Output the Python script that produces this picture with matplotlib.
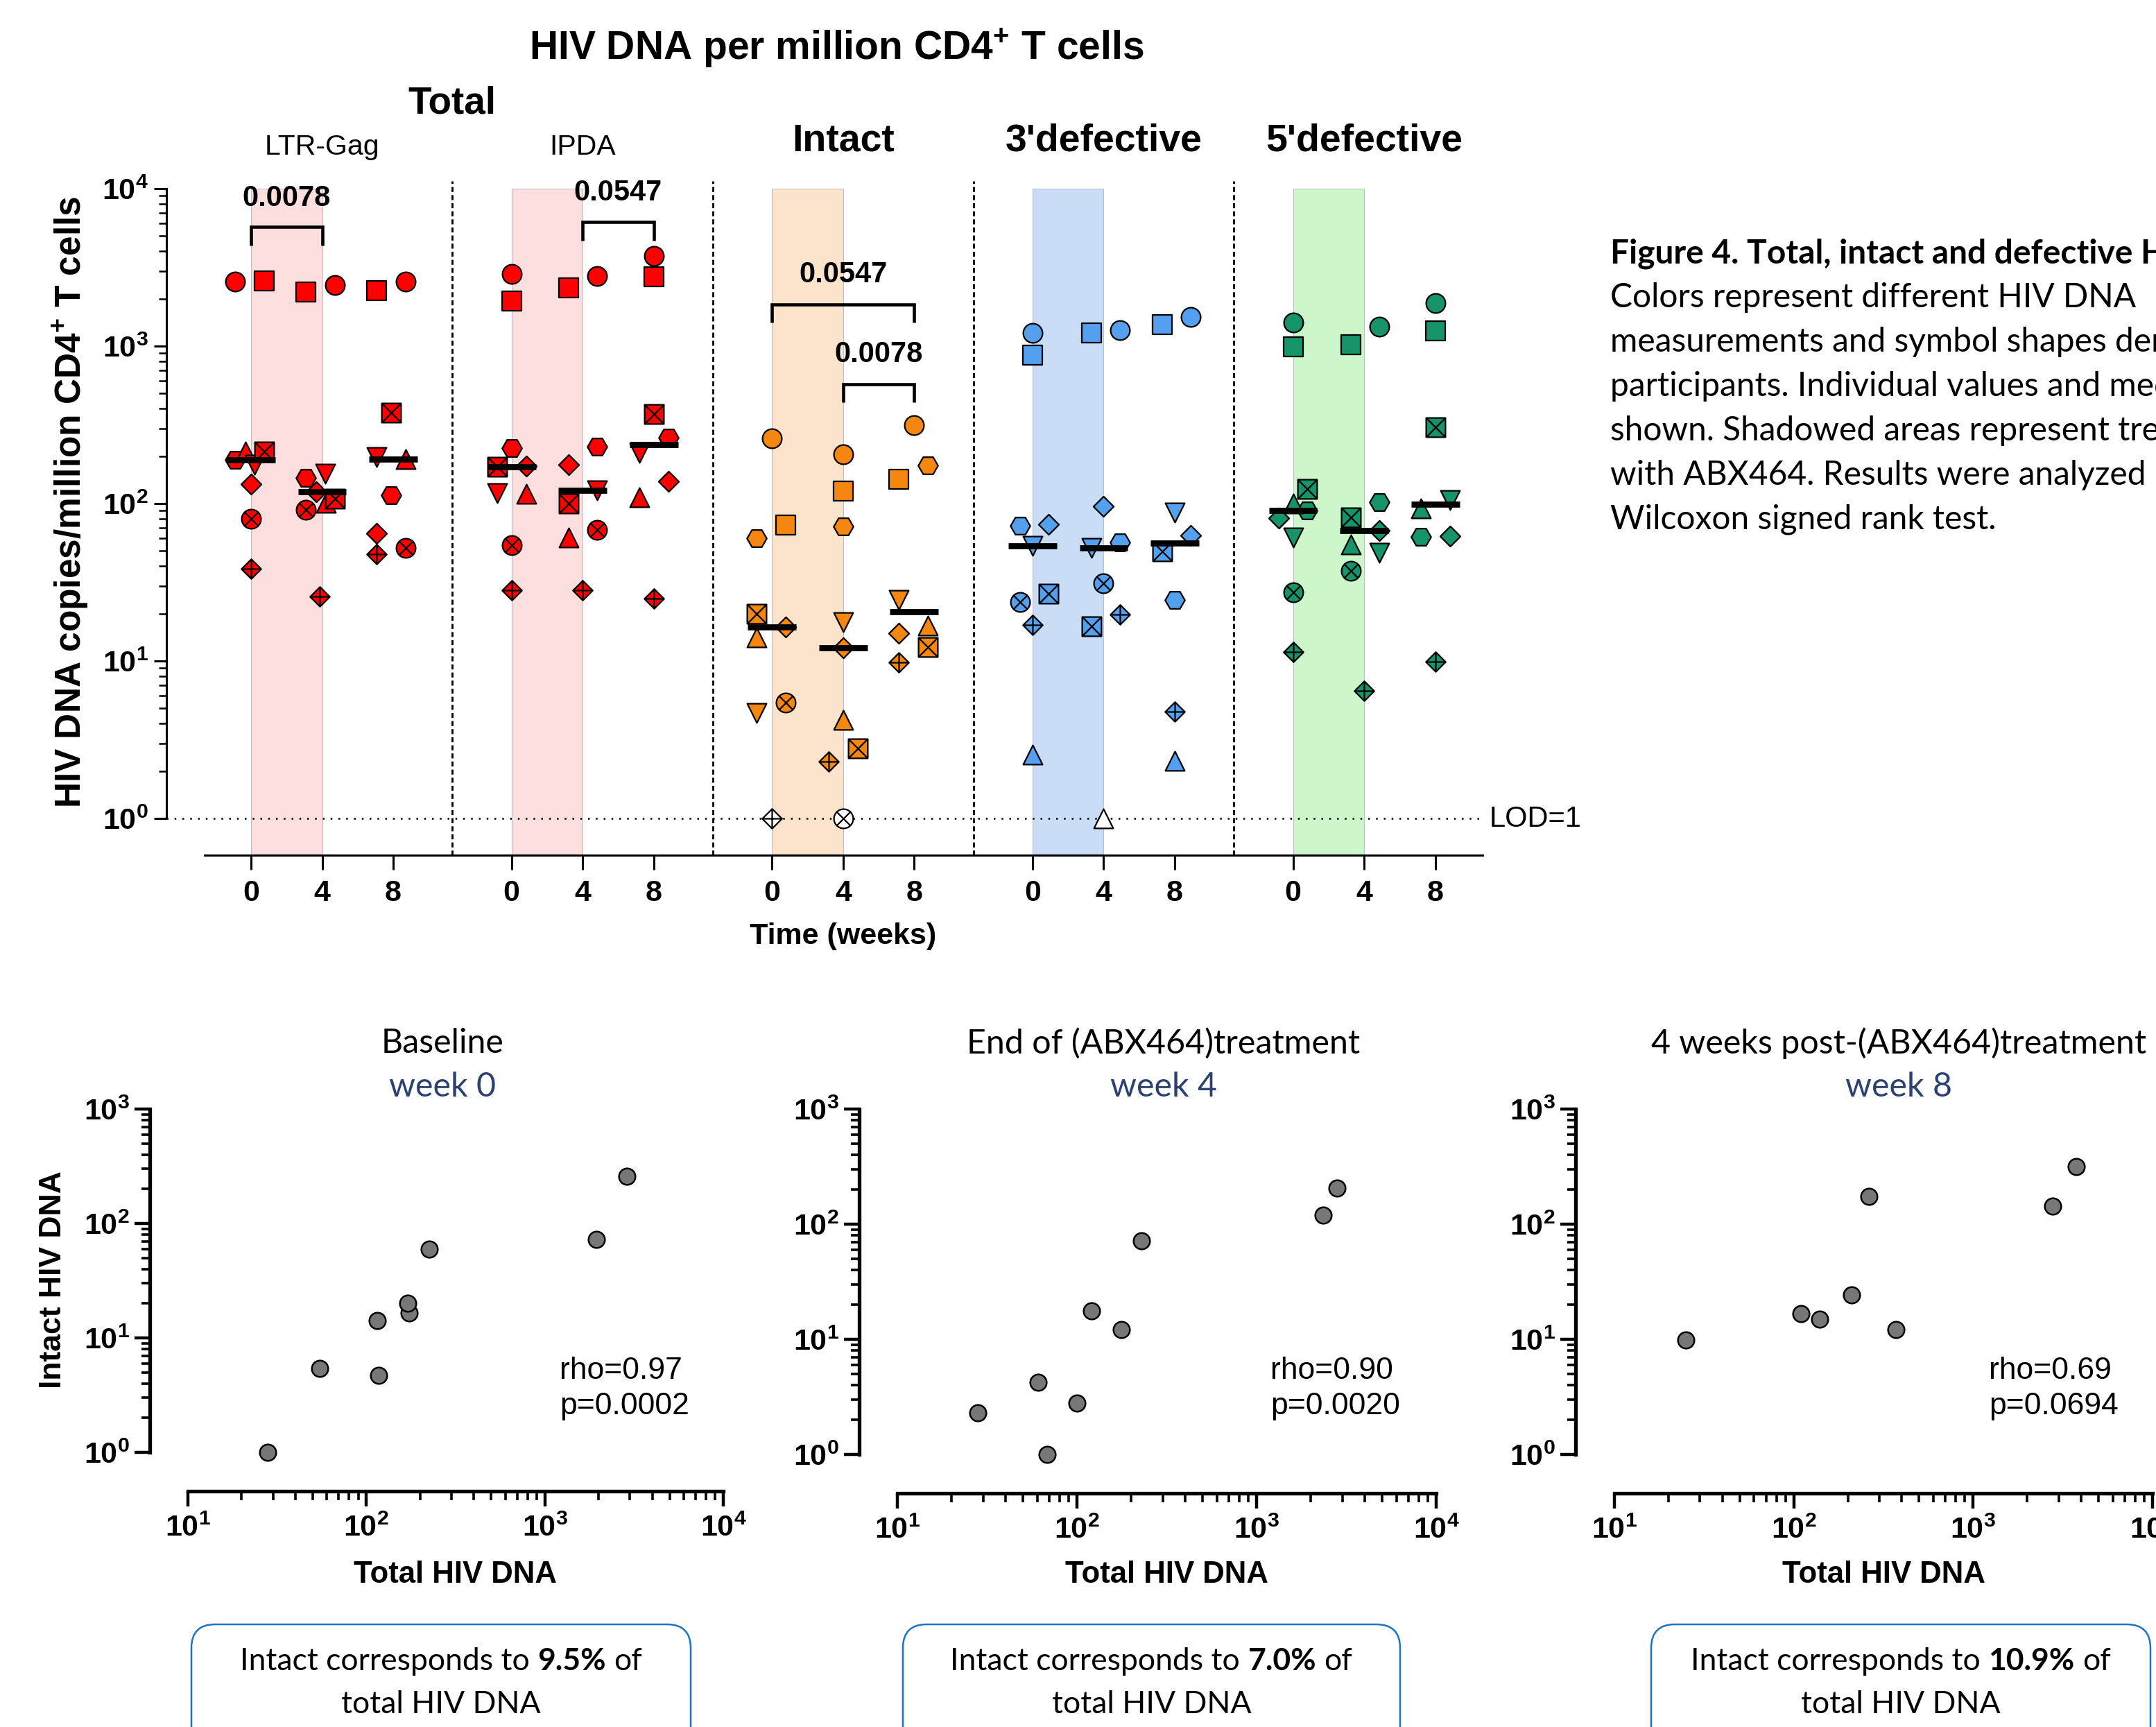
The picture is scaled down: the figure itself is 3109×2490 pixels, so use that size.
import numpy as np
import matplotlib
matplotlib.use('Agg')
import matplotlib.pyplot as plt
import matplotlib.ticker as mticker
import matplotlib.transforms as mtransforms
from matplotlib.path import Path
from matplotlib.patches import FancyBboxPatch

# ---------------------------------------------------------------- data
WEEKS = [0, 4, 8]
# participant symbol order
SHAPES = ['circle', 'square', 'hexagon', 'diamond', 'triangle_up',
          'triangle_down', 'circle_x', 'square_x', 'diamond_plus']
ASSAYS = ['LTR-Gag', 'IPDA', 'Intact', "3'defective", "5'defective"]
LOD = 1.0
nan = np.nan

# HIV DNA copies / million CD4+ T cells, rows = week 0, 4, 8 ; columns = SHAPES
ltr_gag = [[2565, 2593, 190, 133, 213, 176, 80, 213, 38.7],
           [2449, 2213, 145, 119, 101, 154, 91, 107, 25.8],
           [2579, 2256, 113, 64.7, 192, 198, 52.4, 378, 47.5]]
ipda = [[2879, 1937, 225, 173, 115, 117, 54.6, 171, 28.1],
        [2798, 2349, 229, 176, 60.6, 121, 68.1, 100, 28.1],
        [3741, 2767, 262, 139, 110, 210, nan, 371, 25.0]]
intact = [[260, 72.8, 60.0, 16.5, 14.1, 4.68, 5.42, 20.0, 1.0],
          [205, 120, 71.5, 12.1, 4.24, 17.6, 1.0, 2.79, 2.30],
          [315, 143, 174, 15.0, 16.8, 24.3, nan, 12.2, 9.8]]
defective3 = [[1208, 878, 72.6, 73.5, 2.54, 54, 23.6, 26.8, 16.9],
              [1267, 1208, 56.5, 96.4, 1.0, 52.4, 31.1, 16.6, 19.8],
              [1527, 1368, 24.3, 62.8, 2.32, 87.4, nan, 49.5, 4.75]]
defective5 = [[1407, 991, 90.1, 81.1, 100, 60.7, 27.3, 124, 11.4],
              [1327, 1016, 102, 67.3, 55, 48.9, 37.2, 81.6, 6.47],
              [1884, 1244, 61.3, 62.1, 92.7, 105, nan, 306, 9.86]]

# Wilcoxon comparisons: (assay index, week from, week to, p)
comparisons = [(0, 0, 4, '0.0078'), (1, 4, 8, '0.0547'),
               (2, 0, 8, '0.0547'), (2, 4, 8, '0.0078')]

# correlation panels
corr_titles = ['Baseline', 'End of (ABX464)treatment', '4 weeks post-(ABX464)treatment']
corr_weeks = ['week 0', 'week 4', 'week 8']
rho_values = ['0.97', '0.90', '0.69']
p_values = ['0.0002', '0.0020', '0.0694']
intact_pct = ['9.5%', '7.0%', '10.9%']

caption_title = 'Figure 4. Total, intact and defective HIV DNA'
caption_lines = ['Colors represent different HIV DNA',
                 'measurements and symbol shapes denote',
                 'participants. Individual values and medians are',
                 'shown. Shadowed areas represent treatment',
                 'with ABX464. Results were analyzed by',
                 'Wilcoxon signed rank test.']

# ---------------------------------------------------------------- layout / style
# horizontal jitter (in week-slot units) for each point, same shape as data
jit_ltr = [[-0.22, 0.19, -0.22, 0, -0.08, 0.05, 0, 0.19, 0],
           [0.18, -0.23, -0.23, -0.08, 0.05, 0.04, -0.23, 0.18, -0.03],
           [0.18, -0.23, -0.03, -0.23, 0.18, -0.23, 0.18, -0.03, -0.23]]
jit_ipda = [[0, 0, 0, 0.21, 0.21, -0.2, 0, -0.2, 0],
            [0.2, -0.2, 0.2, -0.2, -0.2, 0.2, 0.2, -0.2, 0],
            [0, 0, 0.21, 0.21, -0.2, -0.2, 0, 0, 0]]
jit_intact = [[0, 0.19, -0.22, 0.19, -0.22, -0.22, 0.19, -0.22, 0],
              [0, 0, 0, 0, 0, 0, 0, 0.21, -0.2],
              [0, -0.22, 0.19, -0.22, 0.19, -0.22, 0, 0.19, -0.22]]
jit_d3 = [[0, 0, -0.18, 0.22, 0, 0, -0.18, 0.22, 0],
          [0.23, -0.17, 0.23, 0, 0, -0.17, 0, -0.17, 0.23],
          [0.22, -0.18, 0, 0.22, 0, 0, 0, -0.18, 0]]
jit_d5 = [[0, 0, 0.2, -0.2, 0, 0, 0, 0.2, 0],
          [0.21, -0.19, 0.21, 0.21, -0.19, 0.21, -0.19, -0.19, 0],
          [0, 0, -0.2, 0.21, -0.2, 0.21, 0, 0, 0]]

RED, ORANGE, BLUE, GREEN = '#FF0000', '#F5860F', '#55A0EE', '#17936A'
PINK_B, ORANGE_B, BLUE_B, GREEN_B = '#FCDEDF', '#FCE3CB', '#C9DDF6', '#CBF7CB'

plt.rcParams['font.family'] = ['Liberation Sans', 'DejaVu Sans']
plt.rcParams['mathtext.fontset'] = 'custom'
plt.rcParams['mathtext.rm'] = 'Liberation Sans'
plt.rcParams['mathtext.bf'] = 'Liberation Sans:bold'
plt.rcParams['mathtext.it'] = 'Liberation Sans:italic'
CAL = ['Lato', 'DejaVu Sans']

W, H = 3109, 2490
fig = plt.figure(figsize=(W / 100, H / 100), dpi=100)
fig.patch.set_facecolor('white')


def fx(px):
    return px / W


def fy(py):
    return 1 - py / H


# ---------------------------------------------------------------- markers
def seg(a, b):
    return Path([a, b], [Path.MOVETO, Path.LINETO])


r2 = np.sqrt(0.5)
CIRC = Path.unit_circle()
SQ = Path([(-1, -1), (1, -1), (1, 1), (-1, 1), (-1, -1)], closed=True)
DIA = Path([(0, -1), (1, 0), (0, 1), (-1, 0), (0, -1)], closed=True)
HEXP = Path([(np.cos(a), np.sin(a)) for a in np.deg2rad([0, 60, 120, 180, 240, 300, 0])], closed=True)
TRU = Path([(0, 1), (-1, -1), (1, -1), (0, 1)], closed=True)
TRD = Path([(0, -1), (-1, 1), (1, 1), (0, -1)], closed=True)
CIRCX = Path.make_compound_path(CIRC, seg((-r2, -r2), (r2, r2)), seg((-r2, r2), (r2, -r2)))
SQX = Path.make_compound_path(SQ, seg((-1, -1), (1, 1)), seg((-1, 1), (1, -1)))
DIAP = Path.make_compound_path(DIA, seg((-1, 0), (1, 0)), seg((0, -1), (0, 1)))
MARKERS = {'circle': ('o', 20), 'square': (SQ, 20), 'hexagon': (HEXP, 20.5),
           'diamond': (DIA, 21), 'triangle_up': (TRU, 20), 'triangle_down': (TRD, 20),
           'circle_x': (CIRCX, 20), 'square_x': (SQX, 20), 'diamond_plus': (DIAP, 20.5)}

# ---------------------------------------------------------------- top panel
X0PX, UNIT = 362.0, 102.5          # week-0 of first group, px per week slot
GAP = 3.665                        # group spacing in slot units
ax = fig.add_axes([fx(240), fy(1233), (2138 - 240) / W, (1233 - 272) / H])
ax.patch.set_alpha(0)
ax.set_yscale('log')
ax.set_ylim(10 ** -0.2335, 1e4)
ax.set_xlim((240 - X0PX) / UNIT, (2138 - X0PX) / UNIT)
for s in ['top', 'right']:
    ax.spines[s].set_visible(False)
ax.spines['left'].set_bounds(1, 1e4)
ax.spines['bottom'].set_bounds(-0.65, (2138 - X0PX) / UNIT)
ax.spines['left'].set_linewidth(2.2)
ax.spines['bottom'].set_linewidth(2.2)

ax.yaxis.set_major_locator(mticker.FixedLocator([1, 10, 100, 1000, 10000]))
ax.yaxis.set_minor_locator(mticker.FixedLocator([k * 10 ** d for d in range(4) for k in range(2, 10)]))
ax.yaxis.set_major_formatter(mticker.FuncFormatter(lambda v, p: r'$\mathbf{10^{%d}}$' % round(np.log10(v))))
ax.yaxis.set_minor_formatter(mticker.NullFormatter())
ax.tick_params(axis='y', which='major', direction='out', length=13, width=2.2, labelsize=31, pad=6)
ax.tick_params(axis='y', which='minor', direction='out', length=8, width=1.8)

datasets = [ltr_gag, ipda, intact, defective3, defective5]
jitters = [jit_ltr, jit_ipda, jit_intact, jit_d3, jit_d5]
colors = [RED, RED, ORANGE, BLUE, GREEN]
bands = [PINK_B, PINK_B, ORANGE_B, BLUE_B, GREEN_B]

xt, xtl = [], []
for gi, (data, jit, col, bcol) in enumerate(zip(datasets, jitters, colors, bands)):
    base = gi * GAP
    ax.axvspan(base, base + 1, facecolor=bcol, edgecolor='#BFBFBF', lw=0.8, zorder=0)
    for wi, wk in enumerate(WEEKS):
        xc = base + wi
        xt.append(xc)
        xtl.append(str(wk))
        vals = np.array(data[wi], dtype=float)
        for pi, shape in enumerate(SHAPES):
            v = vals[pi]
            if np.isnan(v):
                continue
            mk, ms = MARKERS[shape]
            face = 'white' if v <= LOD else col
            ax.plot([xc + jit[wi][pi]], [v], ls='none', marker=mk, ms=ms, mfc=face,
                    mec='black', mew=1.6, zorder=3, clip_on=False)
        med = np.nanmedian(vals)
        ax.plot([xc - 0.34, xc + 0.34], [med, med], color='black', lw=6.3,
                solid_capstyle='butt', zorder=5)
    if gi < len(datasets) - 1:
        xs = base + 2 + (GAP - 2) / 2
        ax.plot([xs, xs], [10 ** -0.2335, 1.12e4], color='black', lw=2.0,
                ls=(0, (2.6, 1.6)), zorder=1, clip_on=False)

ax.set_xticks(xt)
ax.set_xticklabels(xtl, fontsize=31, fontweight='bold')
ax.tick_params(axis='x', direction='out', length=15, width=2.2, pad=10)
ax.axhline(LOD, color='black', lw=1.8, ls=(0, (1, 3.5)), zorder=1)

# brackets
bracket_pos = {(0, 0, 4): (3.758, 3.637, 3.938), (1, 4, 8): (3.789, 3.670, 3.974),
               (2, 0, 8): (3.264, 3.151, 3.454), (2, 4, 8): (2.756, 2.645, 2.946)}
for gi, w0, w1, p in comparisons:
    top, leg, ty = bracket_pos[(gi, w0, w1)]
    xa = gi * GAP + WEEKS.index(w0)
    xb = gi * GAP + WEEKS.index(w1)
    ax.plot([xa, xa, xb, xb], [10 ** leg, 10 ** top, 10 ** top, 10 ** leg], color='black',
            lw=3.3, solid_joinstyle='miter', solid_capstyle='butt', zorder=6, clip_on=False)
    ax.text((xa + xb) / 2, 10 ** ty, p, ha='center', va='center', fontsize=30,
            fontweight='bold', zorder=6, clip_on=False)

# headings
trans = mtransforms.blended_transform_factory(ax.transData, fig.transFigure)
fig.text(fx(1206), fy(69), r'HIV DNA per million CD4$^{\mathbf{+}}$ T cells', ha='center',
         va='center', fontsize=41, fontweight='bold')
fig.text((1 + 1 + GAP) / 2, fy(150), 'Total', transform=trans, ha='center', va='center',
         fontsize=39.5, fontweight='bold')
for gi, name in enumerate(ASSAYS):
    if gi < 2:
        fig.text(gi * GAP + 1, fy(212), name, transform=trans, ha='center', va='center', fontsize=29.5)
    else:
        fig.text(gi * GAP + 1, fy(204), name, transform=trans, ha='center', va='center',
                 fontsize=40, fontweight='bold')
fig.text(fx(102), fy(724), r'HIV DNA copies/million CD4$^{\mathbf{+}}$ T cells', rotation=90,
         ha='center', va='center', fontsize=37, fontweight='bold')
fig.text(2 * GAP + 1, fy(1350), 'Time (weeks)', transform=trans, ha='center', va='center',
         fontsize=31, fontweight='bold')
fig.text(fx(2148), fy(1181), 'LOD=1', ha='left', va='center', fontsize=30)

# caption (runs past the right edge, as in the source figure)
fig.text(fx(2322), fy(366), caption_title, ha='left', va='center', fontsize=34.5,
         fontweight='bold', family=CAL)
for i, line in enumerate(caption_lines):
    fig.text(fx(2322), fy(429 + 64 * i), line, ha='left', va='center', fontsize=34.5, family=CAL)

# ---------------------------------------------------------------- correlation panels
renderer = fig.canvas.get_renderer()


def mixed_line(cx, by, parts, size):
    objs, widths = [], []
    a = fig.text(0, 0, 'a a', fontsize=size, family=CAL)
    b = fig.text(0, 0, 'aa', fontsize=size, family=CAL)
    space = a.get_window_extent(renderer).width - b.get_window_extent(renderer).width
    a.remove()
    b.remove()
    for s, wgt in parts:
        t = fig.text(0, 0, s, fontsize=size, family=CAL, fontweight=wgt, ha='left', va='baseline')
        objs.append(t)
        widths.append(t.get_window_extent(renderer).width)
    total = sum(widths) + space * (len(parts) - 1)
    x = cx - total / 2
    for t, wd in zip(objs, widths):
        t.set_position((fx(x), fy(by)))
        x += wd + space


panel_specs = [  # x10, x1e4, yaxis, y(10^0), y(10^3), xaxis_y, title_x, rho_x, box_l, box_r
    (271, 1043, 216, 2094, 1599, 2150, 638, 807, 276, 996),
    (1294, 2071, 1239, 2097, 1599, 2153, 1678, 1832, 1302, 2019),
    (2328, 3104, 2272, 2097, 1599, 2153, 2738, 2868, 2381, 3101),
]
logfmt = mticker.FuncFormatter(lambda v, p: r'$\mathbf{10^{%d}}$' % round(np.log10(v)))
for k, spec in enumerate(panel_specs):
    x10, x1e4, yax, y1, y1e3, xay, tx, rx, bl, br = spec
    dx = (x1e4 - x10) / 3
    dy = (y1 - y1e3) / 3
    a2 = fig.add_axes([fx(yax), fy(xay), (x1e4 - yax) / W, (xay - y1e3) / H])
    a2.patch.set_alpha(0)
    a2.set_xscale('log')
    a2.set_yscale('log')
    a2.set_xlim(10 ** (1 - (x10 - yax) / dx), 1e4)
    a2.set_ylim(10 ** (-(xay - y1) / dy), 1e3)
    for s in ['top', 'right']:
        a2.spines[s].set_visible(False)
    a2.spines['left'].set_bounds(1, 1e3)
    a2.spines['bottom'].set_bounds(10, 1e4)
    a2.spines['left'].set_linewidth(3.8)
    a2.spines['bottom'].set_linewidth(3.8)
    a2.xaxis.set_major_locator(mticker.FixedLocator([10, 100, 1000, 10000]))
    a2.xaxis.set_minor_locator(mticker.FixedLocator([m * 10 ** d for d in range(1, 4) for m in range(2, 10)]))
    a2.yaxis.set_major_locator(mticker.FixedLocator([1, 10, 100, 1000]))
    a2.yaxis.set_minor_locator(mticker.FixedLocator([m * 10 ** d for d in range(0, 3) for m in range(2, 10)]))
    a2.xaxis.set_major_formatter(logfmt)
    a2.yaxis.set_major_formatter(logfmt)
    a2.xaxis.set_minor_formatter(mticker.NullFormatter())
    a2.yaxis.set_minor_formatter(mticker.NullFormatter())
    a2.tick_params(which='major', direction='out', length=16, width=3.2, labelsize=31)
    a2.tick_params(which='minor', direction='out', length=9, width=2.6)
    a2.tick_params(axis='x', which='major', pad=8)
    a2.tick_params(axis='y', which='major', pad=5)

    xs = np.array(ipda[k], dtype=float)
    ys = np.array(intact[k], dtype=float)
    ok = ~np.isnan(xs) & ~np.isnan(ys)
    a2.plot(xs[ok], ys[ok], ls='none', marker='o', ms=17, mfc='#777777', mec='black',
            mew=1.8, zorder=3, clip_on=False)

    fig.text(fx((x10 + x1e4) / 2), fy(2270), 'Total HIV DNA', ha='center', va='center',
             fontsize=31.5, fontweight='bold')
    if k == 0:
        fig.text(fx(77), fy(1845), 'Intact HIV DNA', rotation=90, ha='center', va='center',
                 fontsize=32, fontweight='bold')

    fig.text(fx(tx), fy(1504), corr_titles[k], ha='center', va='center', fontsize=34.8, family=CAL)
    fig.text(fx(tx), fy(1567), corr_weeks[k], ha='center', va='center', fontsize=34.8,
             family=CAL, color='#2B4170')
    fig.text(fx(rx), fy(1976), 'rho=' + rho_values[k], ha='left', va='center', fontsize=32)
    fig.text(fx(rx), fy(2028), 'p=' + p_values[k], ha='left', va='center', fontsize=32)

    box = FancyBboxPatch((fx(bl), fy(2560)), (br - bl) / W, (2560 - 2342) / H,
                         boxstyle='round,pad=0,rounding_size=0.011', transform=fig.transFigure,
                         facecolor='none', edgecolor='#1A73C4', lw=1.8, mutation_aspect=W / H)
    fig.add_artist(box)
    cx = (bl + br) / 2
    mixed_line(cx, 2408, [('Intact corresponds to', 'normal'), (intact_pct[k], 'bold'), ('of', 'normal')], 32)
    fig.text(fx(cx), fy(2457), 'total HIV DNA', ha='center', va='center', fontsize=32, family=CAL)

fig.savefig('out.png', dpi=100)
